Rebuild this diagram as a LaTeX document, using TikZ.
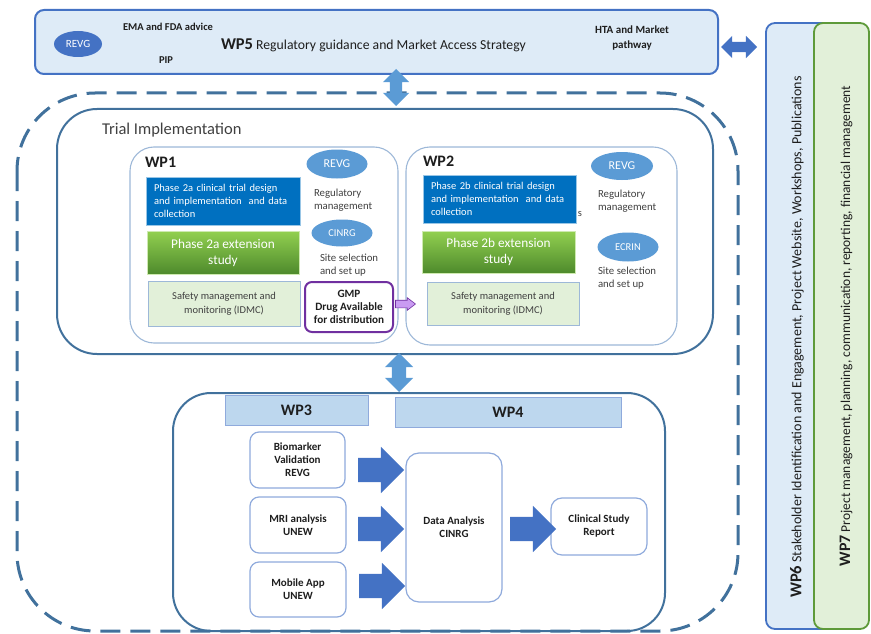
\documentclass[tikz,border=0pt]{standalone}
\usepackage{fontspec}
\setmainfont{Carlito}
\usetikzlibrary{shapes.geometric,shapes.arrows}
\definecolor{frameblue}{HTML}{41719C}
\definecolor{wpblue}{HTML}{4472C4}
\definecolor{paleblue}{HTML}{DEEBF7}
\definecolor{ovalblue}{HTML}{5B9BD5}
\definecolor{deepblue}{HTML}{0070C0}
\definecolor{palegreen}{HTML}{E2F0D9}
\definecolor{leafgreen}{HTML}{92D050}
\definecolor{darkleaf}{HTML}{4E8A2C}
\definecolor{wpgreen}{HTML}{5E9A3A}
\definecolor{headblue}{HTML}{BDD7EE}
\definecolor{lineblue}{HTML}{8FAADC}
\definecolor{softline}{HTML}{9DB8D8}
\definecolor{gmppurple}{HTML}{7030A0}
\definecolor{lilac}{HTML}{C99BF2}
\definecolor{inktext}{HTML}{1E1E1E}
\definecolor{greytext}{HTML}{404040}
\newcommand\fsz[2]{\fontsize{#1}{#2}\selectfont}

\begin{document}
\begin{tikzpicture}[x=1pt,y=-1pt,
  every node/.style={inner sep=0pt, outer sep=0pt, text=inktext},
  boxat/.style args={#1x#2}{anchor=north west, minimum width=#1pt, minimum height=#2pt},
  wpframe/.style={draw=frameblue, line width=2pt, rounded corners=#1},
  subwp/.style={draw=softline, line width=1.1pt, rounded corners=24pt, fill=white},
  taskbox/.style={fill=deepblue, draw=white!60!deepblue, line width=0.6pt, text=white,
    align=left, inner xsep=8pt, font=\fsz{10.5}{13}},
  extbox/.style={top color=leafgreen, bottom color=darkleaf, draw=white!55!leafgreen,
    line width=0.6pt, text=white, align=center, font=\fsz{13.3}{16}},
  safebox/.style={fill=palegreen, draw=softline, line width=0.8pt, align=center,
    text=greytext, font=\fsz{10.5}{14}},
  oval/.style={ellipse, fill=ovalblue, text=white, font=\fsz{12}{14}},
  note/.style={anchor=west, align=left, text=greytext, font=\fsz{10.8}{13}},
  wphead/.style={fill=headblue, draw=lineblue, line width=0.8pt, font=\fsz{16}{18}\bfseries},
  outbox/.style={fill=white, draw=lineblue, line width=1.2pt, rounded corners=9pt,
    align=center, font=\fsz{11}{13}\bfseries},
  blockarrow/.style={single arrow, fill=wpblue, minimum height=46pt, minimum width=46pt,
    inner ysep=12pt, single arrow head extend=11pt},
  linkarrow/.style={double arrow, fill=ovalblue}
]
\useasboundingbox (0,0) rectangle (871,634);

% outer dashed frame around the trial work
\draw[draw=frameblue, line width=3pt, dash pattern=on 20pt off 10pt, rounded corners=78pt]
  (17,93) rectangle (738,631);

% WP5 banner
\node[boxat=683x64, fill=paleblue, draw=wpblue, line width=2pt, rounded corners=9pt] (wp5) at (35,10) {};
\node[ellipse, fill=wpblue, text=white, minimum width=48pt, minimum height=26pt, font=\fsz{11}{13}] (revg5) at (78,44) {REVG};
\node[font=\fsz{10.5}{12}\bfseries] (ema) at (168,27) {EMA and FDA advice};
\node[font=\fsz{10.5}{12}\bfseries] (pip) at (166,60) {PIP};
\node[anchor=west, font=\fsz{13.7}{16}] (wp5title) at (221,45) {{\fsz{16.5}{18}\bfseries WP5} Regulatory guidance and Market Access Strategy};
\node[align=center, font=\fsz{11}{15}\bfseries] (hta) at (632,38) {HTA and Market\\pathway};

% Trial implementation frame
\node[boxat=656x245, wpframe=40pt] (trial) at (57,109) {};
\node[anchor=west, text=greytext, font=\fsz{16.5}{18}] (trialtitle) at (102,130) {Trial Implementation};

% WP1
\node[boxat=268x196, subwp] (wp1) at (130,147) {};
\node[anchor=west, font=\fsz{16}{18}\bfseries] (wp1title) at (145,162) {WP1};
\node[boxat=154x48, taskbox, text width=138pt] (design1) at (146,177)
  {Phase 2a clinical trial design\\and implementation\ \ and data\\collection};
\node[boxat=152x43, extbox] (ext1) at (147,231) {Phase 2a extension\\study};
\node[boxat=152x45, safebox] (safe1) at (148,281) {Safety management and\\monitoring (IDMC)};
\node[oval, minimum width=61pt, minimum height=29pt] (revg1) at (337,164) {REVG};
\node[note] (reg1) at (314,200.5) {Regulatory\\management};
\node[oval, minimum width=61pt, minimum height=27pt, font=\fsz{10.5}{12}] (cinrg1) at (342,233) {CINRG};
\node[note] (site1) at (320,265.5) {Site selection\\and set up};
\node[boxat=88x50, draw=gmppurple, line width=2pt, rounded corners=7pt, fill=white,
  align=center, font=\fsz{11.2}{13}\bfseries] (gmp) at (305,282) {GMP\\Drug Available\\for distribution};

% WP2
\node[boxat=271x198, subwp] (wp2) at (406,147) {};
\node[anchor=west, font=\fsz{16}{18}\bfseries] (wp2title) at (423,161) {WP2};
\node[boxat=153x48, taskbox, text width=137pt] (design2) at (423,175)
  {Phase 2b clinical trial design\\and implementation\ \ and data\\collection};
\node[text=greytext, font=\fsz{10.5}{12}] (stray) at (580,214) {s};
\node[boxat=153x42, extbox] (ext2) at (422,231) {Phase 2b extension\\study};
\node[boxat=152x43, safebox] (safe2) at (427,282) {Safety management and\\monitoring (IDMC)};
\node[oval, minimum width=62pt, minimum height=28pt] (revg2) at (622,166) {REVG};
\node[note] (reg2) at (598,201) {Regulatory\\management};
\node[oval, minimum width=61pt, minimum height=29pt, font=\fsz{10.5}{12}] (ecrin) at (628,247) {ECRIN};
\node[note] (site2) at (598,278.5) {Site selection\\and set up};

% drug supply hand-over from WP1 to WP2
\node[single arrow, fill=lilac, draw=gmppurple, line width=0.6pt, minimum height=20pt,
  minimum width=12pt, inner ysep=3.5pt, single arrow head extend=2.5pt, single arrow tip angle=75] (supply) at (403,304) {};

% analysis frame: WP3 and WP4
\node[boxat=492x238, wpframe=38pt] (analysis) at (173,393) {};
\node[boxat=143x30, wphead] (wp3) at (225,395) {WP3};
\node[boxat=226x30, wphead] (wp4) at (395,397) {WP4};
\node[boxat=95x56, outbox] (bio) at (250,432) {Biomarker\\Validation\\REVG};
\node[boxat=96x56, outbox] (mri) at (250,497) {MRI analysis\\UNEW};
\node[boxat=96x55, outbox] (mob) at (250,562) {Mobile App\\UNEW};
\node[boxat=96x149, outbox, rounded corners=13pt] (data) at (406,453) {Data Analysis\\CINRG};
\node[boxat=96x57, outbox, rounded corners=11pt] (csr) at (551,498) {Clinical Study\\Report};
\node[blockarrow] (bioflow) at (375,470) {};
\node[blockarrow] (mriflow) at (375,529) {};
\node[blockarrow] (mobflow) at (376,586) {};
\node[blockarrow] (reportflow) at (527,529) {};

% links between the work-package groups
\node[linkarrow, rotate=90, minimum height=37pt, minimum width=26pt, inner ysep=6pt,
  double arrow head extend=7pt] (linkA) at (396,87.5) {};
\node[linkarrow, rotate=90, minimum height=39pt, minimum width=28pt, inner ysep=7pt,
  double arrow head extend=7pt] (linkB) at (399,372.5) {};

% WP6 and WP7 side bands
\node[boxat=64x606, fill=paleblue, draw=wpblue, line width=1.8pt, rounded corners=9pt] (wp6) at (766,23) {};
\node[boxat=55x606, fill=palegreen, draw=wpgreen, line width=1.8pt, rounded corners=9pt] (wp7) at (814,23) {};
\node[rotate=90, font=\fsz{14}{16}] (wp6text) at (797,337)
  {{\fsz{16.5}{18}\bfseries WP6} Stakeholder Identification and Engagement, Project Website, Workshops, Publications};
\node[rotate=90, font=\fsz{13.5}{16}] (wp7text) at (846,326)
  {{\fsz{16}{18}\bfseries WP7} Project management, planning, communication, reporting, financial management};

\node[double arrow, fill=wpblue, minimum height=36pt, minimum width=22pt, inner ysep=5pt,
  double arrow head extend=6pt] (linkC) at (739,47) {};
\end{tikzpicture}
\end{document}
